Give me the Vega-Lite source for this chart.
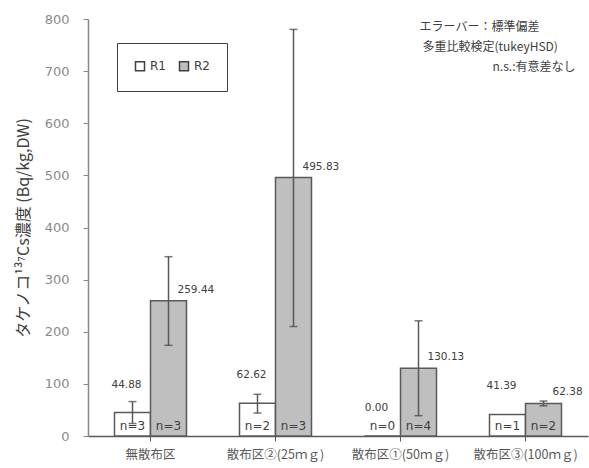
{
  "$schema": "https://vega.github.io/schema/vega-lite/v6.json",
  "autosize": "none",
  "padding": {"left": 88, "top": 19, "right": 1, "bottom": 32},
  "width": 500,
  "height": 417,
  "background": "white",
  "config": {
    "view": {"stroke": null},
    "font": "Noto Sans CJK JP",
    "axis": {"grid": false}
  },
  "data": {
    "values": [
      {"group": "無散布区", "series": "R1", "value": 44.88, "lo": 24, "hi": 66, "n": "n=3"},
      {"group": "無散布区", "series": "R2", "value": 259.44, "lo": 174, "hi": 344, "n": "n=3"},
      {"group": "散布区②(25ｍｇ)", "series": "R1", "value": 62.62, "lo": 44, "hi": 80, "n": "n=2"},
      {"group": "散布区②(25ｍｇ)", "series": "R2", "value": 495.83, "lo": 210, "hi": 780, "n": "n=3"},
      {"group": "散布区①(50ｍｇ)", "series": "R1", "value": 0.0, "lo": null, "hi": null, "n": "n=0"},
      {"group": "散布区①(50ｍｇ)", "series": "R2", "value": 130.13, "lo": 39, "hi": 221, "n": "n=4"},
      {"group": "散布区③(100ｍｇ)", "series": "R1", "value": 41.39, "lo": null, "hi": null, "n": "n=1"},
      {"group": "散布区③(100ｍｇ)", "series": "R2", "value": 62.38, "lo": 58, "hi": 67, "n": "n=2"}
    ]
  },
  "encoding": {
    "x": {
      "field": "group",
      "type": "nominal",
      "sort": null,
      "scale": {"paddingInner": 0.424, "paddingOuter": 0.212},
      "axis": {
        "title": null,
        "labelAngle": 0,
        "labelFontSize": 12.5,
        "labelColor": "#595959",
        "labelPadding": 7,
        "domainColor": "#595959",
        "domainWidth": 1.5,
        "tickColor": "#595959",
        "tickSize": 5
      }
    },
    "xOffset": {"field": "series", "type": "nominal", "scale": {"paddingInner": 0, "paddingOuter": 0}}
  },
  "layer": [
    {
      "mark": {"type": "bar", "stroke": "#595959", "strokeWidth": 1.5},
      "encoding": {
        "y": {
          "field": "value",
          "type": "quantitative",
          "scale": {"domain": [0, 800], "nice": false},
          "axis": {
            "values": [0, 100, 200, 300, 400, 500, 600, 700, 800],
            "title": "タケノコ¹³⁷Cs濃度 (Bq/kg,DW)",
            "titleFontSize": 16,
            "titleFontWeight": "normal",
            "titleColor": "#404040",
            "titlePadding": 13,
            "labelFont": "DejaVu Sans",
            "labelFontSize": 13,
            "labelColor": "#8a8a8a",
            "labelPadding": 14,
            "tickSize": 5,
            "tickColor": "#868686",
            "domainColor": "#868686",
            "domainWidth": 1.5
          }
        },
        "fill": {
          "field": "series",
          "type": "nominal",
          "scale": {"domain": ["R1", "R2"], "range": ["#ffffff", "#bfbfbf"]},
          "legend": {
            "title": null,
            "orient": "none",
            "legendX": 29,
            "legendY": 24,
            "direction": "horizontal",
            "symbolType": "square",
            "symbolSize": 81,
            "symbolStrokeColor": "#404040",
            "symbolStrokeWidth": 1.5,
            "strokeColor": "#404040",
            "padding": 17,
            "columnPadding": 10,
            "labelFont": "DejaVu Sans",
            "labelFontSize": 12,
            "labelColor": "#404040",
            "labelOffset": 4,
            "labelBaseline": "middle"
          }
        }
      }
    },
    {
      "transform": [{"filter": "datum.hi != null"}],
      "mark": {"type": "rule", "color": "#595959", "strokeWidth": 1.5},
      "encoding": {
        "y": {"field": "lo", "type": "quantitative"},
        "y2": {"field": "hi"}
      }
    },
    {
      "transform": [{"filter": "datum.hi != null"}],
      "mark": {"type": "tick", "color": "#404040", "thickness": 1.5, "size": 8, "orient": "horizontal"},
      "encoding": {"y": {"field": "hi", "type": "quantitative"}}
    },
    {
      "transform": [{"filter": "datum.hi != null"}],
      "mark": {"type": "tick", "color": "#404040", "thickness": 1.5, "size": 8, "orient": "horizontal"},
      "encoding": {"y": {"field": "lo", "type": "quantitative"}}
    },
    {
      "transform": [{"filter": "datum.series == 'R2'"}],
      "mark": {"type": "text", "align": "left", "baseline": "middle", "dx": 9, "dy": -11, "font": "DejaVu Sans", "fontSize": 10.5, "color": "#404040"},
      "encoding": {
        "y": {"field": "value", "type": "quantitative"},
        "text": {"field": "value", "type": "quantitative", "format": ".2f"}
      }
    },
    {
      "transform": [{"filter": "datum.series == 'R1'"}],
      "mark": {"type": "text", "align": "center", "baseline": "middle", "dx": -6, "dy": -28, "font": "DejaVu Sans", "fontSize": 10.5, "color": "#404040"},
      "encoding": {
        "y": {"field": "value", "type": "quantitative"},
        "text": {"field": "value", "type": "quantitative", "format": ".2f"}
      }
    },
    {
      "mark": {"type": "text", "align": "center", "baseline": "middle", "dy": -10, "font": "DejaVu Sans", "fontSize": 12, "color": "#404040"},
      "encoding": {
        "y": {"datum": 0},
        "text": {"field": "n"}
      }
    },
    {
      "data": {"values": [{"t": "エラーバー：標準偏差"}]},
      "mark": {"type": "text", "align": "left", "baseline": "middle", "dx": -70, "fontSize": 12, "color": "#404040"},
      "encoding": {
        "x": {"datum": "散布区③(100ｍｇ)"},
        "xOffset": {"value": 0},
        "y": {"datum": 785},
        "text": {"field": "t"}
      }
    },
    {
      "data": {"values": [{"t": "多重比較検定(tukeyHSD)"}]},
      "mark": {"type": "text", "align": "left", "baseline": "middle", "dx": -67, "fontSize": 12, "color": "#404040"},
      "encoding": {
        "x": {"datum": "散布区③(100ｍｇ)"},
        "xOffset": {"value": 0},
        "y": {"datum": 747},
        "text": {"field": "t"}
      }
    },
    {
      "data": {"values": [{"t": "n.s.:有意差なし"}]},
      "mark": {"type": "text", "align": "right", "baseline": "middle", "dx": 86, "fontSize": 12, "color": "#404040"},
      "encoding": {
        "x": {"datum": "散布区③(100ｍｇ)"},
        "xOffset": {"value": 0},
        "y": {"datum": 708},
        "text": {"field": "t"}
      }
    }
  ]
}
